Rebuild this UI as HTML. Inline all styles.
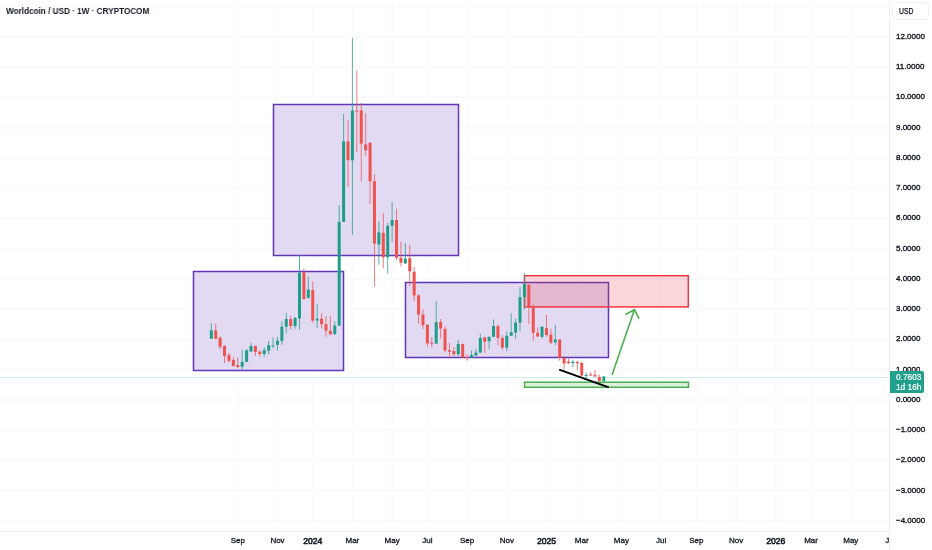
<!DOCTYPE html>
<html><head><meta charset="utf-8"><style>
html,body{margin:0;padding:0;background:#fff;}
body{width:932px;height:550px;position:relative;overflow:hidden;-webkit-font-smoothing:antialiased;font-family:"Liberation Sans",sans-serif;color:#131722;}
.usd{-webkit-text-stroke:0.25px #131722;}
.pl{-webkit-text-stroke:0.35px #131722;}
.tl{-webkit-text-stroke:0.3px #131722;}
svg{position:absolute;left:0;top:0;}
.title{position:absolute;left:5.8px;top:6px;will-change:transform;font-size:8.6px;transform:scaleX(0.951);transform-origin:0 0;font-weight:bold;line-height:10px;white-space:nowrap;}
.pl{position:absolute;will-change:transform;left:896px;font-size:8px;line-height:10px;white-space:nowrap;}
.tl{position:absolute;top:5px;width:40px;text-align:center;font-size:8px;line-height:10px;white-space:nowrap;}
.tclip{position:absolute;will-change:transform;left:0;top:531px;width:889px;height:19px;overflow:hidden;}
.tl.b{font-size:8.6px;-webkit-text-stroke:0.55px #131722;}
.usd{position:absolute;will-change:transform;left:892px;top:2px;width:37px;height:18px;box-sizing:border-box;border:1px solid #F0F0F0;border-radius:3.5px;font-size:8.4px;line-height:17px;}
.usd span{position:absolute;left:5.8px;top:0;display:inline-block;transform:scaleX(0.82);transform-origin:0 0;}
.lab{position:absolute;will-change:transform;left:890px;top:371px;width:34px;height:22px;background:#22A08B;border-radius:0 2px 2px 0;color:#fff;font-size:8.3px;line-height:10px;-webkit-text-stroke:0.2px #fff;}
.lab div{position:absolute;left:6px;}
</style></head><body>
<svg width="932" height="550" viewBox="0 0 932 550">
<rect x="0" y="5.70" width="889" height="2" fill="#FAFAFA"/>
<rect x="0" y="35.95" width="889" height="2" fill="#FAFAFA"/>
<rect x="0" y="66.19" width="889" height="2" fill="#FAFAFA"/>
<rect x="0" y="96.44" width="889" height="2" fill="#FAFAFA"/>
<rect x="0" y="126.69" width="889" height="2" fill="#FAFAFA"/>
<rect x="0" y="156.93" width="889" height="2" fill="#FAFAFA"/>
<rect x="0" y="187.18" width="889" height="2" fill="#FAFAFA"/>
<rect x="0" y="217.42" width="889" height="2" fill="#FAFAFA"/>
<rect x="0" y="247.67" width="889" height="2" fill="#FAFAFA"/>
<rect x="0" y="277.92" width="889" height="2" fill="#FAFAFA"/>
<rect x="0" y="308.16" width="889" height="2" fill="#FAFAFA"/>
<rect x="0" y="338.41" width="889" height="2" fill="#FAFAFA"/>
<rect x="0" y="368.65" width="889" height="2" fill="#FAFAFA"/>
<rect x="0" y="398.90" width="889" height="2" fill="#FAFAFA"/>
<rect x="0" y="429.15" width="889" height="2" fill="#FAFAFA"/>
<rect x="0" y="459.39" width="889" height="2" fill="#FAFAFA"/>
<rect x="0" y="489.64" width="889" height="2" fill="#FAFAFA"/>
<rect x="0" y="519.88" width="889" height="2" fill="#FAFAFA"/>
<rect x="237.01" y="0" width="1.5" height="531" fill="#FAFAFA"/>
<rect x="276.70" y="0" width="1.5" height="531" fill="#FAFAFA"/>
<rect x="311.98" y="0" width="1.5" height="531" fill="#FAFAFA"/>
<rect x="351.67" y="0" width="1.5" height="531" fill="#FAFAFA"/>
<rect x="391.36" y="0" width="1.5" height="531" fill="#FAFAFA"/>
<rect x="426.64" y="0" width="1.5" height="531" fill="#FAFAFA"/>
<rect x="466.33" y="0" width="1.5" height="531" fill="#FAFAFA"/>
<rect x="506.02" y="0" width="1.5" height="531" fill="#FAFAFA"/>
<rect x="545.71" y="0" width="1.5" height="531" fill="#FAFAFA"/>
<rect x="580.99" y="0" width="1.5" height="531" fill="#FAFAFA"/>
<rect x="620.68" y="0" width="1.5" height="531" fill="#FAFAFA"/>
<rect x="660.37" y="0" width="1.5" height="531" fill="#FAFAFA"/>
<rect x="695.65" y="0" width="1.5" height="531" fill="#FAFAFA"/>
<rect x="735.34" y="0" width="1.5" height="531" fill="#FAFAFA"/>
<rect x="775.03" y="0" width="1.5" height="531" fill="#FAFAFA"/>
<rect x="810.31" y="0" width="1.5" height="531" fill="#FAFAFA"/>
<rect x="850.00" y="0" width="1.5" height="531" fill="#FAFAFA"/>
<line x1="889.5" y1="0" x2="889.5" y2="550" stroke="#EFEFEF" stroke-width="1"/>
<line x1="0" y1="531.5" x2="889" y2="531.5" stroke="#EFEFEF" stroke-width="1"/>
<rect x="193.5" y="271.5" width="150.0" height="99.0" fill="#E2DAF3" fill-opacity="1" stroke="#6236B8" stroke-width="1.5"/>
<rect x="273.5" y="104.5" width="185.0" height="151.0" fill="#E2DAF3" fill-opacity="1" stroke="#6236B8" stroke-width="1.5"/>
<rect x="405.5" y="282.5" width="203.0" height="75.0" fill="#E2DAF3" fill-opacity="1" stroke="#6236B8" stroke-width="1.5"/>
<rect x="524.5" y="275.7" width="163.79999999999995" height="31.19999999999999" fill="#F23645" fill-opacity="0.2" stroke="#F23645" stroke-width="1.5"/>
<rect x="524.5" y="382.2" width="164.0" height="5.100000000000023" fill="#4CAF50" fill-opacity="0.2" stroke="#4CAF50" stroke-width="1.5"/>
<line x1="0" y1="377.5" x2="889" y2="377.5" stroke="#089981" stroke-opacity="0.18" stroke-width="1"/>
<rect x="210.80" y="323.2" width="1" height="15.80" fill="#1E9E88" fill-opacity="0.75"/>
<rect x="209.80" y="330.3" width="3" height="8.50" fill="#1E9E88"/>
<rect x="215.21" y="323.7" width="1" height="15.30" fill="#EF5350" fill-opacity="0.75"/>
<rect x="214.21" y="330.3" width="3" height="8.50" fill="#EF5350"/>
<rect x="219.62" y="336.0" width="1" height="13.40" fill="#EF5350" fill-opacity="0.75"/>
<rect x="218.62" y="337.9" width="3" height="8.90" fill="#EF5350"/>
<rect x="224.03" y="345.0" width="1" height="18.00" fill="#EF5350" fill-opacity="0.75"/>
<rect x="223.03" y="346.1" width="3" height="9.80" fill="#EF5350"/>
<rect x="228.44" y="353.0" width="1" height="9.40" fill="#EF5350" fill-opacity="0.75"/>
<rect x="227.44" y="355.1" width="3" height="5.70" fill="#EF5350"/>
<rect x="232.85" y="357.0" width="1" height="9.50" fill="#EF5350" fill-opacity="0.75"/>
<rect x="231.85" y="359.9" width="3" height="6.10" fill="#EF5350"/>
<rect x="237.26" y="357.7" width="1" height="10.70" fill="#EF5350" fill-opacity="0.75"/>
<rect x="236.26" y="365.0" width="3" height="2.00" fill="#EF5350"/>
<rect x="241.67" y="349.4" width="1" height="20.10" fill="#1E9E88" fill-opacity="0.75"/>
<rect x="240.67" y="361.9" width="3" height="4.90" fill="#1E9E88"/>
<rect x="246.08" y="349.0" width="1" height="13.00" fill="#1E9E88" fill-opacity="0.75"/>
<rect x="245.08" y="350.4" width="3" height="11.50" fill="#1E9E88"/>
<rect x="250.49" y="343.1" width="1" height="8.90" fill="#1E9E88" fill-opacity="0.75"/>
<rect x="249.49" y="346.1" width="3" height="5.40" fill="#1E9E88"/>
<rect x="254.90" y="345.5" width="1" height="10.40" fill="#EF5350" fill-opacity="0.75"/>
<rect x="253.90" y="346.1" width="3" height="5.80" fill="#EF5350"/>
<rect x="259.31" y="350.2" width="1" height="6.50" fill="#EF5350" fill-opacity="0.75"/>
<rect x="258.31" y="351.8" width="3" height="2.20" fill="#EF5350"/>
<rect x="263.72" y="347.4" width="1" height="9.30" fill="#1E9E88" fill-opacity="0.75"/>
<rect x="262.72" y="350.2" width="3" height="3.80" fill="#1E9E88"/>
<rect x="268.13" y="340.9" width="1" height="13.60" fill="#1E9E88" fill-opacity="0.75"/>
<rect x="267.13" y="345.3" width="3" height="5.40" fill="#1E9E88"/>
<rect x="272.54" y="337.6" width="1" height="10.40" fill="#1E9E88" fill-opacity="0.75"/>
<rect x="271.54" y="345.5" width="3" height="1.00" fill="#1E9E88"/>
<rect x="276.95" y="336.9" width="1" height="13.80" fill="#1E9E88" fill-opacity="0.75"/>
<rect x="275.95" y="340.9" width="3" height="4.00" fill="#1E9E88"/>
<rect x="281.36" y="321.3" width="1" height="23.40" fill="#1E9E88" fill-opacity="0.75"/>
<rect x="280.36" y="326.7" width="3" height="14.20" fill="#1E9E88"/>
<rect x="285.77" y="312.9" width="1" height="20.70" fill="#1E9E88" fill-opacity="0.75"/>
<rect x="284.77" y="319.1" width="3" height="7.60" fill="#1E9E88"/>
<rect x="290.18" y="315.8" width="1" height="13.60" fill="#EF5350" fill-opacity="0.75"/>
<rect x="289.18" y="319.1" width="3" height="6.90" fill="#EF5350"/>
<rect x="294.59" y="316.9" width="1" height="12.00" fill="#1E9E88" fill-opacity="0.75"/>
<rect x="293.59" y="318.0" width="3" height="8.00" fill="#1E9E88"/>
<rect x="299.00" y="255.3" width="1" height="74.40" fill="#1E9E88" fill-opacity="0.75"/>
<rect x="298.00" y="272.7" width="3" height="45.80" fill="#1E9E88"/>
<rect x="303.41" y="268.6" width="1" height="31.40" fill="#EF5350" fill-opacity="0.75"/>
<rect x="302.41" y="272.2" width="3" height="26.70" fill="#EF5350"/>
<rect x="307.82" y="276.5" width="1" height="22.50" fill="#1E9E88" fill-opacity="0.75"/>
<rect x="306.82" y="289.6" width="3" height="8.20" fill="#1E9E88"/>
<rect x="312.23" y="281.6" width="1" height="40.90" fill="#EF5350" fill-opacity="0.75"/>
<rect x="311.23" y="290.0" width="3" height="30.60" fill="#EF5350"/>
<rect x="316.64" y="303.8" width="1" height="24.20" fill="#1E9E88" fill-opacity="0.75"/>
<rect x="315.64" y="318.7" width="3" height="1.90" fill="#1E9E88"/>
<rect x="321.05" y="313.3" width="1" height="15.20" fill="#EF5350" fill-opacity="0.75"/>
<rect x="320.05" y="318.7" width="3" height="5.50" fill="#EF5350"/>
<rect x="325.46" y="316.3" width="1" height="20.40" fill="#EF5350" fill-opacity="0.75"/>
<rect x="324.46" y="324.2" width="3" height="6.50" fill="#EF5350"/>
<rect x="329.87" y="316.0" width="1" height="19.00" fill="#EF5350" fill-opacity="0.75"/>
<rect x="328.87" y="330.7" width="3" height="3.60" fill="#EF5350"/>
<rect x="334.28" y="321.2" width="1" height="13.80" fill="#1E9E88" fill-opacity="0.75"/>
<rect x="333.28" y="325.6" width="3" height="8.40" fill="#1E9E88"/>
<rect x="338.69" y="205.1" width="1" height="120.90" fill="#1E9E88" fill-opacity="0.75"/>
<rect x="337.69" y="221.8" width="3" height="103.80" fill="#1E9E88"/>
<rect x="343.10" y="113.8" width="1" height="108.20" fill="#1E9E88" fill-opacity="0.75"/>
<rect x="342.10" y="141.4" width="3" height="80.40" fill="#1E9E88"/>
<rect x="347.51" y="120.3" width="1" height="66.70" fill="#EF5350" fill-opacity="0.75"/>
<rect x="346.51" y="141.4" width="3" height="18.90" fill="#EF5350"/>
<rect x="351.92" y="38.0" width="1" height="196.90" fill="#1E9E88" fill-opacity="0.75"/>
<rect x="350.92" y="110.5" width="3" height="49.80" fill="#1E9E88"/>
<rect x="356.33" y="70.7" width="1" height="81.60" fill="#EF5350" fill-opacity="0.75"/>
<rect x="355.33" y="110.5" width="3" height="1.00" fill="#EF5350"/>
<rect x="360.74" y="103.0" width="1" height="78.30" fill="#EF5350" fill-opacity="0.75"/>
<rect x="359.74" y="110.5" width="3" height="33.10" fill="#EF5350"/>
<rect x="365.15" y="113.0" width="1" height="42.50" fill="#EF5350" fill-opacity="0.75"/>
<rect x="364.15" y="144.3" width="3" height="6.00" fill="#EF5350"/>
<rect x="369.56" y="142.0" width="1" height="61.80" fill="#EF5350" fill-opacity="0.75"/>
<rect x="368.56" y="142.9" width="3" height="38.40" fill="#EF5350"/>
<rect x="373.97" y="174.0" width="1" height="112.40" fill="#EF5350" fill-opacity="0.75"/>
<rect x="372.97" y="181.3" width="3" height="62.30" fill="#EF5350"/>
<rect x="378.38" y="221.3" width="1" height="43.30" fill="#1E9E88" fill-opacity="0.75"/>
<rect x="377.38" y="232.4" width="3" height="12.10" fill="#1E9E88"/>
<rect x="382.79" y="213.1" width="1" height="55.20" fill="#EF5350" fill-opacity="0.75"/>
<rect x="381.79" y="232.9" width="3" height="24.40" fill="#EF5350"/>
<rect x="387.20" y="222.7" width="1" height="50.90" fill="#1E9E88" fill-opacity="0.75"/>
<rect x="386.20" y="225.8" width="3" height="31.50" fill="#1E9E88"/>
<rect x="391.61" y="202.2" width="1" height="39.60" fill="#1E9E88" fill-opacity="0.75"/>
<rect x="390.61" y="220.0" width="3" height="5.80" fill="#1E9E88"/>
<rect x="396.02" y="208.7" width="1" height="51.30" fill="#EF5350" fill-opacity="0.75"/>
<rect x="395.02" y="220.0" width="3" height="37.80" fill="#EF5350"/>
<rect x="400.43" y="241.5" width="1" height="24.90" fill="#EF5350" fill-opacity="0.75"/>
<rect x="399.43" y="257.8" width="3" height="4.90" fill="#EF5350"/>
<rect x="404.84" y="243.3" width="1" height="20.70" fill="#1E9E88" fill-opacity="0.75"/>
<rect x="403.84" y="258.5" width="3" height="4.80" fill="#1E9E88"/>
<rect x="409.25" y="245.1" width="1" height="41.00" fill="#EF5350" fill-opacity="0.75"/>
<rect x="408.25" y="258.2" width="3" height="13.10" fill="#EF5350"/>
<rect x="413.66" y="266.9" width="1" height="33.90" fill="#EF5350" fill-opacity="0.75"/>
<rect x="412.66" y="271.8" width="3" height="23.60" fill="#EF5350"/>
<rect x="418.07" y="294.0" width="1" height="30.00" fill="#EF5350" fill-opacity="0.75"/>
<rect x="417.07" y="295.4" width="3" height="19.10" fill="#EF5350"/>
<rect x="422.48" y="309.3" width="1" height="19.60" fill="#EF5350" fill-opacity="0.75"/>
<rect x="421.48" y="314.5" width="3" height="10.80" fill="#EF5350"/>
<rect x="426.89" y="324.0" width="1" height="22.90" fill="#EF5350" fill-opacity="0.75"/>
<rect x="425.89" y="324.8" width="3" height="18.50" fill="#EF5350"/>
<rect x="431.30" y="337.1" width="1" height="10.10" fill="#EF5350" fill-opacity="0.75"/>
<rect x="430.30" y="342.8" width="3" height="1.00" fill="#EF5350"/>
<rect x="435.71" y="301.1" width="1" height="42.90" fill="#1E9E88" fill-opacity="0.75"/>
<rect x="434.71" y="322.1" width="3" height="21.50" fill="#1E9E88"/>
<rect x="440.12" y="319.0" width="1" height="19.70" fill="#EF5350" fill-opacity="0.75"/>
<rect x="439.12" y="322.1" width="3" height="6.50" fill="#EF5350"/>
<rect x="444.53" y="326.5" width="1" height="26.10" fill="#EF5350" fill-opacity="0.75"/>
<rect x="443.53" y="328.9" width="3" height="21.60" fill="#EF5350"/>
<rect x="448.94" y="342.8" width="1" height="14.70" fill="#EF5350" fill-opacity="0.75"/>
<rect x="447.94" y="350.2" width="3" height="1.60" fill="#EF5350"/>
<rect x="453.35" y="346.9" width="1" height="9.50" fill="#EF5350" fill-opacity="0.75"/>
<rect x="452.35" y="351.0" width="3" height="3.20" fill="#EF5350"/>
<rect x="457.76" y="340.0" width="1" height="15.90" fill="#1E9E88" fill-opacity="0.75"/>
<rect x="456.76" y="344.0" width="3" height="10.20" fill="#1E9E88"/>
<rect x="462.17" y="343.5" width="1" height="14.50" fill="#EF5350" fill-opacity="0.75"/>
<rect x="461.17" y="344.0" width="3" height="13.50" fill="#EF5350"/>
<rect x="466.58" y="354.2" width="1" height="6.60" fill="#EF5350" fill-opacity="0.75"/>
<rect x="465.58" y="357.0" width="3" height="1.00" fill="#EF5350"/>
<rect x="470.99" y="350.5" width="1" height="7.50" fill="#1E9E88" fill-opacity="0.75"/>
<rect x="469.99" y="355.0" width="3" height="2.50" fill="#1E9E88"/>
<rect x="475.40" y="348.9" width="1" height="7.10" fill="#1E9E88" fill-opacity="0.75"/>
<rect x="474.40" y="352.6" width="3" height="2.80" fill="#1E9E88"/>
<rect x="479.81" y="333.8" width="1" height="19.20" fill="#1E9E88" fill-opacity="0.75"/>
<rect x="478.81" y="337.9" width="3" height="14.70" fill="#1E9E88"/>
<rect x="484.22" y="337.0" width="1" height="16.10" fill="#EF5350" fill-opacity="0.75"/>
<rect x="483.22" y="337.4" width="3" height="4.30" fill="#EF5350"/>
<rect x="488.63" y="336.5" width="1" height="12.80" fill="#1E9E88" fill-opacity="0.75"/>
<rect x="487.63" y="336.8" width="3" height="4.40" fill="#1E9E88"/>
<rect x="493.04" y="319.4" width="1" height="17.60" fill="#1E9E88" fill-opacity="0.75"/>
<rect x="492.04" y="326.0" width="3" height="10.80" fill="#1E9E88"/>
<rect x="497.45" y="324.3" width="1" height="21.00" fill="#EF5350" fill-opacity="0.75"/>
<rect x="496.45" y="326.0" width="3" height="11.90" fill="#EF5350"/>
<rect x="501.86" y="335.1" width="1" height="14.70" fill="#EF5350" fill-opacity="0.75"/>
<rect x="500.86" y="337.9" width="3" height="9.80" fill="#EF5350"/>
<rect x="506.27" y="331.4" width="1" height="19.80" fill="#1E9E88" fill-opacity="0.75"/>
<rect x="505.27" y="335.8" width="3" height="11.90" fill="#1E9E88"/>
<rect x="510.68" y="313.3" width="1" height="22.70" fill="#1E9E88" fill-opacity="0.75"/>
<rect x="509.68" y="332.2" width="3" height="3.60" fill="#1E9E88"/>
<rect x="515.09" y="318.6" width="1" height="20.00" fill="#1E9E88" fill-opacity="0.75"/>
<rect x="514.09" y="322.6" width="3" height="10.00" fill="#1E9E88"/>
<rect x="519.50" y="286.8" width="1" height="44.60" fill="#1E9E88" fill-opacity="0.75"/>
<rect x="518.50" y="297.2" width="3" height="25.40" fill="#1E9E88"/>
<rect x="523.91" y="273.2" width="1" height="36.40" fill="#1E9E88" fill-opacity="0.75"/>
<rect x="522.91" y="284.1" width="3" height="13.10" fill="#1E9E88"/>
<rect x="528.32" y="284.0" width="1" height="40.10" fill="#EF5350" fill-opacity="0.75"/>
<rect x="527.32" y="285.0" width="3" height="22.40" fill="#EF5350"/>
<rect x="532.73" y="304.1" width="1" height="36.70" fill="#EF5350" fill-opacity="0.75"/>
<rect x="531.73" y="307.4" width="3" height="25.40" fill="#EF5350"/>
<rect x="537.14" y="327.4" width="1" height="9.60" fill="#EF5350" fill-opacity="0.75"/>
<rect x="536.14" y="332.8" width="3" height="3.70" fill="#EF5350"/>
<rect x="541.55" y="326.0" width="1" height="12.60" fill="#1E9E88" fill-opacity="0.75"/>
<rect x="540.55" y="326.8" width="3" height="10.00" fill="#1E9E88"/>
<rect x="545.96" y="315.0" width="1" height="21.80" fill="#EF5350" fill-opacity="0.75"/>
<rect x="544.96" y="328.1" width="3" height="6.90" fill="#EF5350"/>
<rect x="550.37" y="328.6" width="1" height="15.50" fill="#EF5350" fill-opacity="0.75"/>
<rect x="549.37" y="334.6" width="3" height="8.00" fill="#EF5350"/>
<rect x="554.78" y="325.0" width="1" height="20.00" fill="#1E9E88" fill-opacity="0.75"/>
<rect x="553.78" y="339.5" width="3" height="2.80" fill="#1E9E88"/>
<rect x="559.19" y="339.0" width="1" height="21.80" fill="#EF5350" fill-opacity="0.75"/>
<rect x="558.19" y="339.5" width="3" height="18.50" fill="#EF5350"/>
<rect x="563.60" y="356.0" width="1" height="13.50" fill="#EF5350" fill-opacity="0.75"/>
<rect x="562.60" y="358.0" width="3" height="5.50" fill="#EF5350"/>
<rect x="568.01" y="358.5" width="1" height="5.70" fill="#EF5350" fill-opacity="0.75"/>
<rect x="567.01" y="361.5" width="3" height="1.50" fill="#EF5350"/>
<rect x="572.42" y="360.0" width="1" height="7.00" fill="#1E9E88" fill-opacity="0.75"/>
<rect x="571.42" y="361.8" width="3" height="1.20" fill="#1E9E88"/>
<rect x="576.83" y="361.0" width="1" height="9.50" fill="#EF5350" fill-opacity="0.75"/>
<rect x="575.83" y="361.8" width="3" height="1.40" fill="#EF5350"/>
<rect x="581.24" y="361.8" width="1" height="14.20" fill="#EF5350" fill-opacity="0.75"/>
<rect x="580.24" y="363.0" width="3" height="12.50" fill="#EF5350"/>
<rect x="585.65" y="372.5" width="1" height="6.00" fill="#1E9E88" fill-opacity="0.75"/>
<rect x="584.65" y="375.0" width="3" height="1.00" fill="#1E9E88"/>
<rect x="590.06" y="372.2" width="1" height="3.80" fill="#EF5350" fill-opacity="0.75"/>
<rect x="589.06" y="374.5" width="3" height="1.00" fill="#EF5350"/>
<rect x="594.47" y="370.2" width="1" height="6.80" fill="#EF5350" fill-opacity="0.75"/>
<rect x="593.47" y="374.8" width="3" height="1.70" fill="#EF5350"/>
<rect x="598.88" y="374.5" width="1" height="7.00" fill="#EF5350" fill-opacity="0.75"/>
<rect x="597.88" y="377.0" width="3" height="4.00" fill="#EF5350"/>
<rect x="603.29" y="376.0" width="1" height="5.50" fill="#1E9E88" fill-opacity="0.75"/>
<rect x="602.29" y="376.5" width="3" height="4.70" fill="#1E9E88"/>
<line x1="559.2" y1="369.6" x2="608.8" y2="387.4" stroke="#000" stroke-width="2"/>
<g stroke="#4CAF50" stroke-width="1.6" fill="none" stroke-linecap="round"><line x1="612.3" y1="374.3" x2="634.4" y2="309.7"/><polyline points="625.8,314.4 634.4,309.7 638.8,318.2"/></g>
</svg>
<div class="title">Worldcoin / USD · 1W · CRYPTOCOM</div>
<div class="usd"><span>USD</span></div>
<div class="pl" style="top:31.9px">12.0000</div>
<div class="pl" style="top:62.2px">11.0000</div>
<div class="pl" style="top:92.4px">10.0000</div>
<div class="pl" style="top:122.7px">9.0000</div>
<div class="pl" style="top:152.9px">8.0000</div>
<div class="pl" style="top:183.2px">7.0000</div>
<div class="pl" style="top:213.4px">6.0000</div>
<div class="pl" style="top:243.7px">5.0000</div>
<div class="pl" style="top:273.9px">4.0000</div>
<div class="pl" style="top:304.2px">3.0000</div>
<div class="pl" style="top:334.4px">2.0000</div>
<div class="pl" style="top:394.9px">0.0000</div>
<div class="pl" style="top:425.1px">−1.0000</div>
<div class="pl" style="top:455.4px">−2.0000</div>
<div class="pl" style="top:485.6px">−3.0000</div>
<div class="pl" style="top:515.9px">−4.0000</div>
<div class="pl" style="top:364.5px;height:6.5px;overflow:hidden">1.0000</div>
<div class="tclip">
<div class="tl" style="left:217.8px">Sep</div>
<div class="tl" style="left:257.5px">Nov</div>
<div class="tl b" style="left:292.7px">2024</div>
<div class="tl" style="left:332.4px">Mar</div>
<div class="tl" style="left:372.1px">May</div>
<div class="tl" style="left:407.4px">Jul</div>
<div class="tl" style="left:447.1px">Sep</div>
<div class="tl" style="left:486.8px">Nov</div>
<div class="tl b" style="left:526.5px">2025</div>
<div class="tl" style="left:561.7px">Mar</div>
<div class="tl" style="left:601.4px">May</div>
<div class="tl" style="left:641.1px">Jul</div>
<div class="tl" style="left:676.4px">Sep</div>
<div class="tl" style="left:716.1px">Nov</div>
<div class="tl b" style="left:755.8px">2026</div>
<div class="tl" style="left:791.1px">Mar</div>
<div class="tl" style="left:830.8px">May</div>
<div class="tl" style="left:870.4px">Jul</div>
</div>
<div class="lab"><div style="top:1.3px">0.7603</div><div style="top:11.3px">1d 16h</div></div>
</body></html>
